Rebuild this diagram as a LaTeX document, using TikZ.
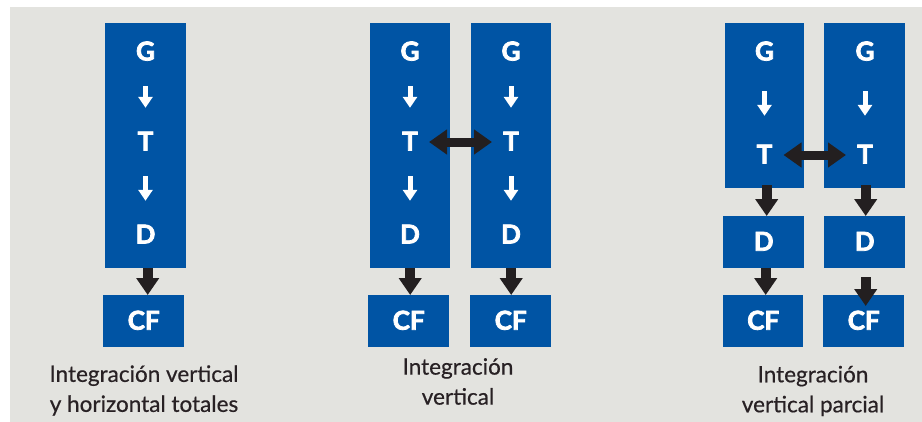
\documentclass[tikz,border=0pt]{standalone}
\usepackage{fontspec}
\setmainfont{Lato}
\newfontfamily\boxfont{Lato}[FakeBold=3]
\newfontfamily\capfont{Lato}[FakeBold=0.5]
\usetikzlibrary{arrows.meta}
\definecolor{boxblue}{RGB}{0,84,164}
\definecolor{panelgray}{RGB}{227,227,223}
\definecolor{inkdark}{RGB}{35,31,32}
\definecolor{labeltext}{RGB}{40,33,36}

\begin{document}
\begin{tikzpicture}[x=1pt,y=-1pt,
  blockbox/.style={fill=boxblue, draw=none, inner sep=0pt, anchor=north west},
  letter/.style={text=white, font=\boxfont\bfseries\fontsize{26}{26}\selectfont,
    inner sep=0pt, text height=17pt, text depth=0pt},
  flowdown/.style={draw=white, line width=5pt,
    -{Triangle[width=14pt,length=11pt]}, shorten <=#1, shorten >=#1},
  flowdown/.default=25.5pt,
  linkdown/.style={draw=inkdark, line width=10pt,
    -{Triangle[width=22pt,length=17pt]}},
  linkboth/.style={draw=inkdark, line width=9pt,
    {Triangle[width=24pt,length=18pt]}-{Triangle[width=24pt,length=18pt]},
    shorten <=11pt, shorten >=11pt},
  caption/.style={text=labeltext, align=center, inner sep=0pt,
    font=\capfont\fontsize{22.5}{30}\selectfont}]

% page and grey panel
\useasboundingbox (0,0) rectangle (922,421);
\fill[panelgray] (10,7) rectangle (930,430);

% ---- total vertical and horizontal integration ----
\node[blockbox, minimum width=81pt, minimum height=245pt] (s1) at (105,23) {};
\node[blockbox, minimum width=81pt, minimum height=52pt] (c1) at (103,295) {};
\node[letter] (g1) at (145.5,52) {G};
\node[letter] (t1) at (145.5,142) {T};
\node[letter] (d1) at (145.5,235) {D};
\node[letter] at (c1.center) {CF};
\draw[flowdown] (g1) -- (t1);
\draw[flowdown] (t1) -- (d1);
\draw[linkdown] (s1.south) ++(2,0) coordinate (a1) -- (a1 |- c1.north);
\node[caption] (l1) at (144,390.5) {Integración vertical\\y horizontal totales};

% ---- vertical integration ----
\node[blockbox, minimum width=80pt, minimum height=245pt] (s2) at (370,23) {};
\node[blockbox, minimum width=80pt, minimum height=245pt] (s3) at (471,23) {};
\node[blockbox, minimum width=81pt, minimum height=52pt] (c2) at (368,295) {};
\node[blockbox, minimum width=81pt, minimum height=52pt] (c3) at (470,295) {};
\node[letter] (g2) at (410,52) {G};
\node[letter] (t2) at (410,142) {T};
\node[letter] (d2) at (410,235) {D};
\node[letter] at (c2.center) {CF};
\node[letter] (g3) at (511,52) {G};
\node[letter] (t3) at (511,142) {T};
\node[letter] (d3) at (511,235) {D};
\node[letter] at (c3.center) {CF};
\draw[flowdown] (g2) -- (t2);
\draw[flowdown] (t2) -- (d2);
\draw[flowdown] (g3) -- (t3);
\draw[flowdown] (t3) -- (d3);
\draw[linkboth] (t2.east) -- (t3.west);
\draw[linkdown] (s2.south) -- (s2.south |- c2.north);
\draw[linkdown] (s3.south) -- (s3.south |- c3.north);
\node[caption] (l2) at (458,381.5) {Integración\\vertical};

% ---- partial vertical integration ----
\node[blockbox, minimum width=79pt, minimum height=165pt] (s4) at (725,23) {};
\node[blockbox, minimum width=81pt, minimum height=165pt] (s5) at (824,23) {};
\node[blockbox, minimum width=81pt, minimum height=52pt] (e4) at (723,216) {};
\node[blockbox, minimum width=81pt, minimum height=52pt] (e5) at (824,216) {};
\node[blockbox, minimum width=80pt, minimum height=52pt] (c4) at (723,295) {};
\node[blockbox, minimum width=81pt, minimum height=52pt] (c5) at (823,295) {};
\node[letter] (g4) at (764.5,52) {G};
\node[letter] (t4) at (764.5,155) {T};
\node[letter] at (e4.center) {D};
\node[letter] at (c4.center) {CF};
\node[letter] (g5) at (865,52) {G};
\node[letter] (t5) at (865,155) {T};
\node[letter] at (e5.center) {D};
\node[letter] at (c5.center) {CF};
\draw[flowdown=30.5pt] (g4) -- (t4);
\draw[flowdown=30.5pt] (g5) -- (t5);
\draw[linkboth] (t4.east) -- (t5.west);
\draw[linkdown] (s4.south) ++(2,-3) coordinate (a4) -- (a4 |- e4.north);
\draw[linkdown] (s5.south) ++(1,-3) coordinate (a5) -- (a5 |- e5.north);
\draw[linkdown] (e4.south) ++(2,0) coordinate (b4) -- (b4 |- c4.north);
\draw[linkdown] (e5.south) ++(1,9) coordinate (b5) -- ([yshift=-11pt]b5 |- c5.north);
\node[caption] (l3) at (813,391) {Integración\\vertical parcial};
\end{tikzpicture}
\end{document}
